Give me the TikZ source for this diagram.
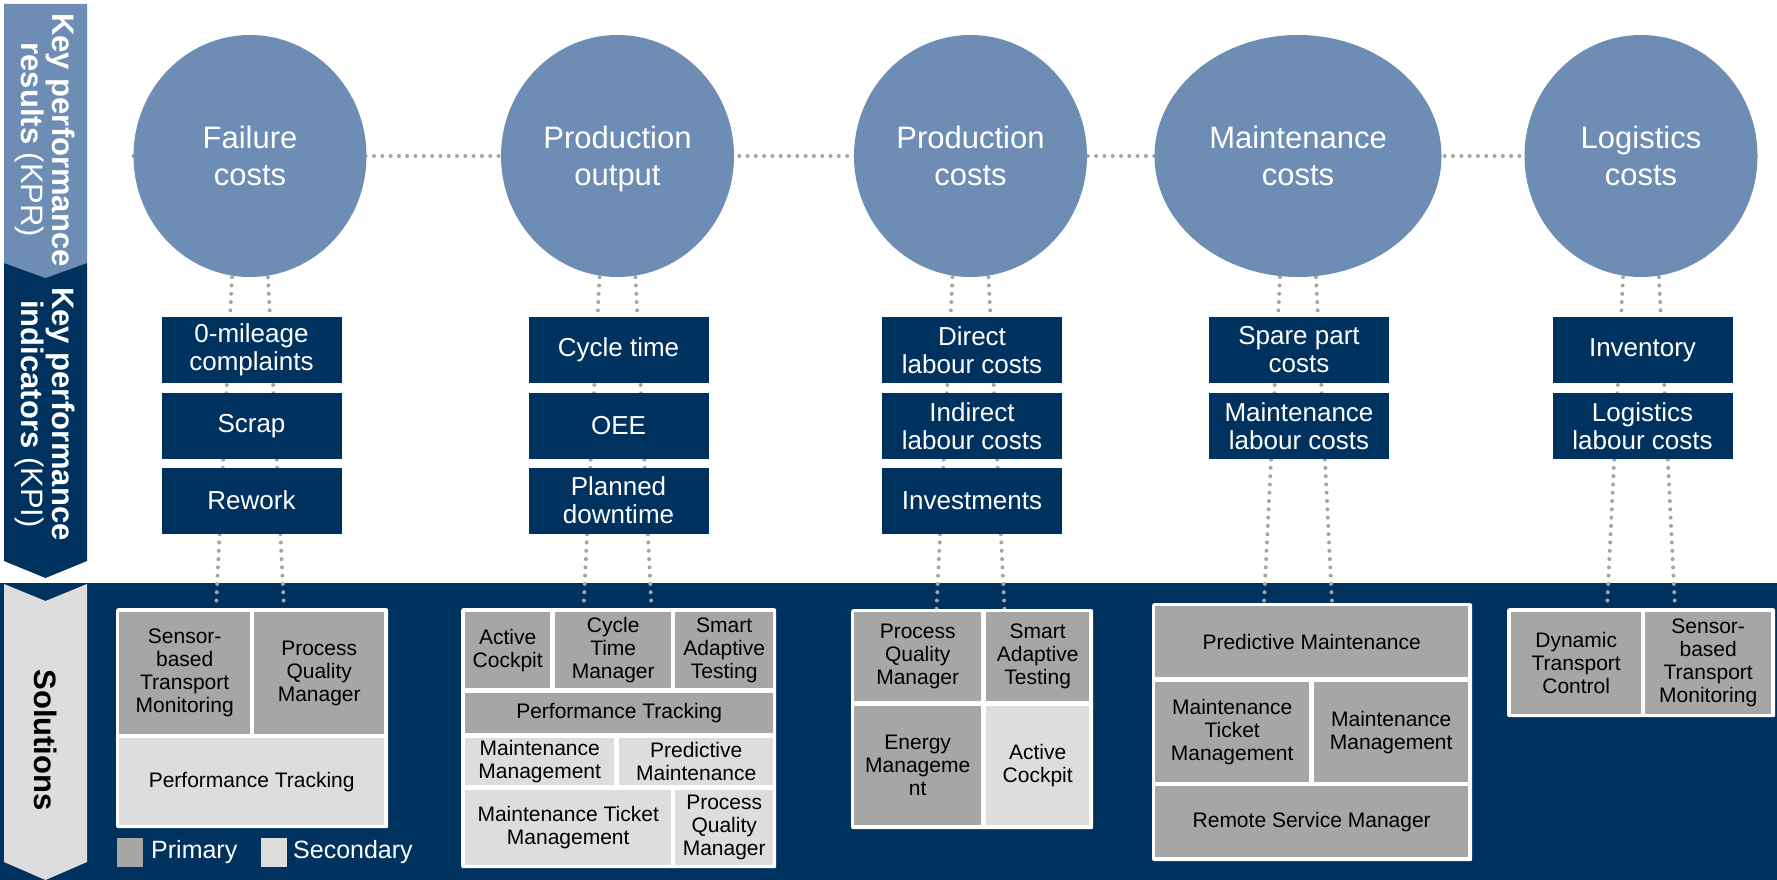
\documentclass[tikz,border=0pt]{standalone}
\usepackage{fontspec}
\setmainfont{Liberation Sans}
\usepackage{xcolor}
\usepackage{tikz}
\usetikzlibrary{calc}
\usetikzlibrary{shapes.geometric}
\usetikzlibrary{positioning}

\definecolor{kprblue}{RGB}{110,141,180}
\definecolor{kpiblue}{RGB}{0,50,96}
\definecolor{primgray}{RGB}{166,166,166}
\definecolor{secgray}{RGB}{221,221,221}
\definecolor{dotgray}{RGB}{165,165,165}

\pgfdeclarelayer{back}
\pgfdeclarelayer{lines}
\pgfsetlayers{back,lines,main}

\tikzset{kpr/.style = {ellipse, fill=kprblue, text=white, align=center, inner sep=0, font=\fontsize{31}{37}\selectfont}}
\tikzset{kpi/.style = {rectangle, fill=kpiblue, text=white, align=center, inner sep=0, minimum width=180pt, minimum height=66pt, font=\fontsize{26}{28}\selectfont}}
\tikzset{prim/.style = {rectangle, fill=primgray, align=center, inner sep=1pt, font=\fontsize{21}{23}\selectfont}}
\tikzset{secnd/.style = {prim, fill=secgray}}
\tikzset{solframe/.style = {rectangle, fill=white, rounded corners=2pt, inner sep=0}}
\tikzset{dotline/.style = {draw=dotgray, line width=4pt, line cap=round, dash pattern=on 0pt off 8.3pt}}
\tikzset{bandtext/.style = {rotate=-90, align=center, inner sep=0, font=\fontsize{31}{31}\selectfont}}
\tikzset{legtext/.style = {anchor=west, text=white, inner sep=0, font=\fontsize{25}{28}\selectfont}}

% name, style, x1, y1, x2, y2, text
\newcommand{\solbox}[7]{\node[#2, anchor=north west, minimum width={(#5-#3)*1pt}, minimum height={(#6-#4)*1pt}] (#1) at (#3,#4) {#7};}

\begin{document}
\begin{tikzpicture}[x=1pt, y=-1pt]
\useasboundingbox (0,0) rectangle (1777,880);

% bands on the left and dark background
\begin{pgfonlayer}{back}
\fill [kpiblue] (0,583) rectangle (1777,880);
\fill [kpiblue] (4,263) -- (87,263) -- (87,561) -- (45.5,578) -- (4,561) -- cycle;
\fill [kprblue] (4,4) -- (87,4) -- (87,263) -- (45.5,278) -- (4,263) -- cycle;
\fill [secgray] (4,584) -- (45.5,601) -- (87,584) -- (87,862) -- (45.5,880) -- (4,862) -- cycle;
\end{pgfonlayer}

\node [bandtext, text=white] (kprlabel) at (45.5,140) {\textbf{Key performance}\\\textbf{results} (KPR)};
\node [bandtext, text=white] (kpilabel) at (45.5,414) {\textbf{Key performance}\\\textbf{indicators} (KPI)};
\node [bandtext, text=black] (sollabel) at (45.5,740) {\textbf{Solutions}};

% key performance results
\node [kpr, minimum width=233pt, minimum height=242pt] (kpr1) at (250,156) {Failure\\costs};
\node [kpr, minimum width=233pt, minimum height=242pt] (kpr2) at (617.5,156) {Production\\\smash{output}};
\node [kpr, minimum width=233pt, minimum height=242pt] (kpr3) at (970.5,156) {Production\\costs};
\node [kpr, minimum width=287pt, minimum height=242pt] (kpr4) at (1298,156) {Maintenance\\costs};
\node [kpr, minimum width=233pt, minimum height=242pt] (kpr5) at (1641,156) {Logistics\\costs};

% key performance indicators
\node [kpi] (kpi11) at (251.5,350) {0-mileage\\complaints};
\node [kpi] (kpi12) at (251.5,426) {Scrap};
\node [kpi] (kpi13) at (251.5,500.5) {Rework};
\node [kpi] (kpi21) at (618.5,350) {Cycle time};
\node [kpi] (kpi22) at (618.5,426) {OEE};
\node [kpi] (kpi23) at (618.5,500.5) {Planned\\downtime};
\node [kpi] (kpi31) at (972,350) {Direct\\labour costs};
\node [kpi] (kpi32) at (972,426) {Indirect\\labour costs};
\node [kpi] (kpi33) at (972,500.5) {Investments};
\node [kpi] (kpi41) at (1299,350) {Spare part\\costs};
\node [kpi] (kpi42) at (1299,426) {Maintenance\\labour costs};
\node [kpi] (kpi51) at (1642.5,350) {Inventory};
\node [kpi] (kpi52) at (1642.5,426) {Logistics\\labour costs};

% solutions
\solbox{sol1}{solframe}{116}{608}{388}{828}{}
\solbox{s11}{prim}{119}{612}{250}{734}{Sensor-\\based\\Transport\\Monitoring}
\solbox{s12}{prim}{254}{612}{384}{734}{Process\\Quality\\Manager}
\solbox{s13}{secnd}{119}{738}{384}{825}{Performance Tracking}

\solbox{sol2}{solframe}{461}{608}{776}{868}{}
\solbox{s21}{prim}{465}{612}{550}{688}{Active\\Cockpit}
\solbox{s22}{prim}{555}{612}{671}{688}{Cycle\\Time\\Manager}
\solbox{s23}{prim}{675}{612}{773}{688}{Smart\\Adaptive\\Testing}
\solbox{s24}{prim}{465}{693}{773}{733}{Performance Tracking}
\solbox{s25}{secnd}{465}{738}{614}{785}{Maintenance\\Management}
\solbox{s26}{secnd}{619}{738}{773}{785}{Predictive\\Maintenance}
\solbox{s27}{secnd}{465}{790}{671}{865}{Maintenance Ticket\\Management}
\solbox{s28}{secnd}{675}{790}{773}{865}{Process\\Quality\\Manager}

\solbox{sol3}{solframe}{851}{609}{1093}{829}{}
\solbox{s31}{prim}{854}{612}{981}{701}{Process\\Quality\\Manager}
\solbox{s32}{prim}{986}{612}{1089}{701}{Smart\\Adaptive\\Testing}
\solbox{s33}{prim}{854}{706}{981}{825}{Energy\\Manageme\\nt}
\solbox{s34}{secnd}{986}{706}{1089}{825}{Active\\Cockpit}

\solbox{sol4}{solframe}{1152}{603}{1472}{861}{}
\solbox{s41}{prim}{1155}{606}{1468}{677}{Predictive Maintenance}
\solbox{s42}{prim}{1155}{682}{1309}{782}{Maintenance\\Ticket\\Management}
\solbox{s43}{prim}{1314}{682}{1468}{782}{Maintenance\\Management}
\solbox{s44}{prim}{1155}{786}{1468}{857}{Remote Service Manager}

\solbox{sol5}{solframe}{1507}{608}{1775}{717}{}
\solbox{s51}{prim}{1511}{612}{1641}{714}{Dynamic\\Transport\\Control}
\solbox{s52}{prim}{1645}{612}{1771}{714}{Sensor-\\based\\Transport\\Monitoring}

% legend
\solbox{legprim}{prim}{117}{838}{143}{867}{}
\node [legtext] (legprimtext) at (151,852.5) {Primary};
\solbox{legsec}{secnd}{261}{838}{287}{867}{}
\node [legtext] (legsectext) at (293,852.5) {Secondary};

% dotted connectors
\begin{pgfonlayer}{lines}
\draw [dotline] (kpr1.west) -- (kpr5.west);
\foreach \i in {1,...,5} {
  \draw [dotline] ([xshift=-18pt]kpr\i.south) -- ($(kpr\i.south |- sol\i.north)+(-34,0)$);
  \draw [dotline] ([xshift=18pt]kpr\i.south) -- ($(kpr\i.south |- sol\i.north)+(34,0)$);
}
\end{pgfonlayer}
\end{tikzpicture}
\end{document}
